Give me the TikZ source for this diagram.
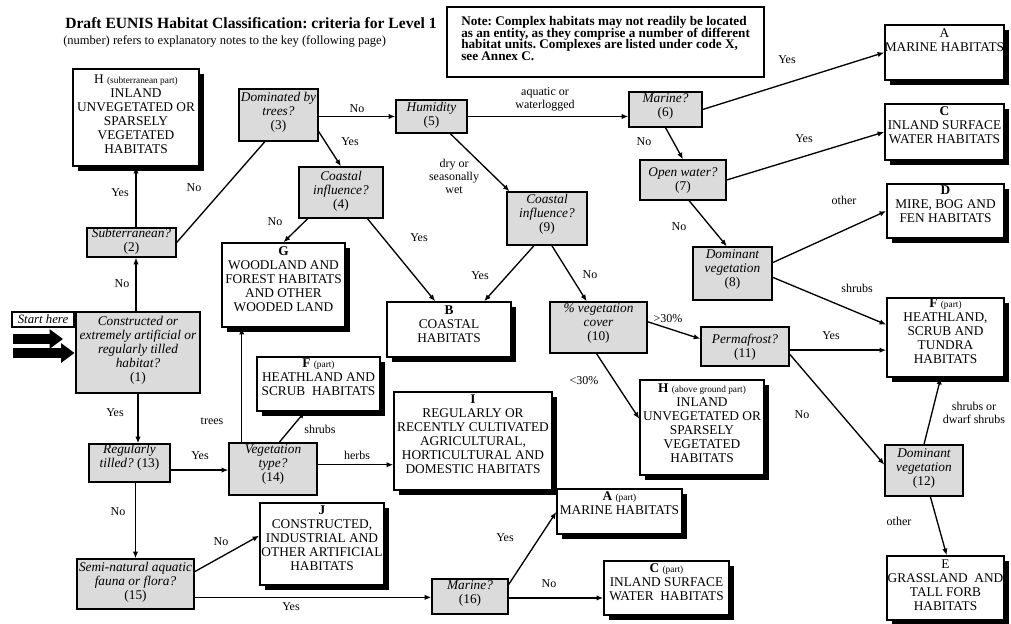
\documentclass[tikz,border=0pt]{standalone}
\usepackage{fontspec}
\setmainfont{Liberation Serif}
\usetikzlibrary{arrows.meta,calc,fit,shadows}
\frenchspacing
\newcommand\smallpart[1]{{\fontsize{7}{7}\selectfont #1}}
\newcommand\notefont{\fontsize{9.9}{8.8}\selectfont\bfseries\lineskiplimit=-10pt\relax}
\tikzset{
  qbox/.style={draw, line width=1pt, fill=black!14, inner sep=0pt},
  qboxthick/.style={qbox, line width=2.2pt},
  habbox/.style={draw, line width=1.1pt, fill=white, inner sep=0pt,
    drop shadow={shadow xshift=3.6pt, shadow yshift=-3.4pt, fill=black, opacity=1}},
  qtext/.style={align=center, font=\fontsize{10}{10.5}\selectfont\itshape, inner sep=0pt},
  htext/.style={align=center, font=\fontsize{10}{10.5}\selectfont, inner sep=0pt},
  lab/.style={align=center, font=\fontsize{9}{9.75}\selectfont, inner sep=0pt},
  conn/.style={line width=1pt, -{Latex[length=5pt,width=4pt]}},
  lnk/.style={line width=1pt},
  bigarrow/.style={line width=7.5pt, -{Triangle[length=10pt,width=14pt]}},
}
\begin{document}
\begin{tikzpicture}[x=0.75pt,y=-0.75pt]
\useasboundingbox (0,0) rectangle (1011,624);

% title
\node[anchor=base west, font=\fontsize{11.7}{12}\selectfont\bfseries, inner sep=0pt] (title) at (65,29)
  {Draft EUNIS Habitat Classification: criteria for Level 1};
\node[anchor=base west, font=\fontsize{9.4}{10}\selectfont, inner sep=0pt] (subtitle) at (63,45)
  {(number) refers to explanatory notes to the key (following page)};

% note
\node[draw, line width=2.2pt, fit={(447,7) (764,77)}, inner sep=0pt] (note) {};
\node[anchor=west, align=left, font=\notefont, inner sep=0pt] (notet) at (461,38.5)
  {Note: Complex habitats may not readily be located\\as an entity, as they comprise a number of different\\habitat units. Complexes are listed under code X,\\see Annex C.};

% start here
\node[draw, line width=0.8pt, fit={(12,312) (74,327)}, inner sep=0pt] (start) {};
\node[font=\fontsize{9.6}{10}\selectfont\itshape, inner sep=0pt] (startt) at (start) {Start here};

% question boxes
\node[qboxthick, fit={(76,312) (200,393)}] (Q1) {};
\node[qtext] (Q1t) at (138,350) {Constructed or\\extremely artificial or\\regularly tilled\\habitat?\\\textup{(1)}};
\node[qbox, fit={(87,228) (176,257)}] (Q2) {};
\node[qtext] (Q2t) at (131.5,241.5) {Subterranean?\\\textup{(2)}};
\node[qbox, fit={(239,89) (318,141)}] (Q3) {};
\node[qtext] (Q3t) at (278.5,112.5) {Dominated by\\trees?\\\textup{(3)}};
\node[qbox, fit={(299,167) (383,218)}] (Q4) {};
\node[qtext] (Q4t) at (341,191) {Coastal\\influence?\\\textup{(4)}};
\node[qbox, fit={(396,100) (467,133)}] (Q5) {};
\node[qtext] (Q5t) at (431.5,115.5) {Humidity\\\textup{(5)}};
\node[qbox, fit={(629,92) (702,127)}] (Q6) {};
\node[qtext] (Q6t) at (665.5,106.5) {Marine?\\\textup{(6)}};
\node[qbox, fit={(640,160) (726,200)}] (Q7) {};
\node[qtext] (Q7t) at (683,181) {Open water?\\\textup{(7)}};
\node[qbox, fit={(693,247) (772,300)}] (Q8) {};
\node[qtext] (Q8t) at (732.5,269.5) {Dominant\\vegetation\\\textup{(8)}};
\node[qbox, fit={(507,192) (587,245)}] (Q9) {};
\node[qtext] (Q9t) at (547,214.5) {Coastal\\influence?\\\textup{(9)}};
\node[qbox, fit={(550,302) (647,353)}] (Q10) {};
\node[qtext] (Q10t) at (598.5,323.5) {\% vegetation\\cover\\\textup{(10)}};
\node[qbox, fit={(701,327) (789,366)}] (Q11) {};
\node[qtext] (Q11t) at (745,347.5) {Permafrost?\\\textup{(11)}};
\node[qbox, fit={(885,445) (963,496)}] (Q12) {};
\node[qtext] (Q12t) at (924,468.5) {Dominant\\vegetation\\\textup{(12)}};
\node[qbox, fit={(89,444) (170,482)}] (Q13) {};
\node[qtext] (Q13t) at (129.5,457) {Regularly\\tilled? \textup{(13)}};
\node[qbox, fit={(229,443) (317,495)}] (Q14) {};
\node[qtext] (Q14t) at (273,465) {Vegetation\\type?\\\textup{(14)}};
\node[qbox, fit={(77,559) (194,609)}] (Q15) {};
\node[qtext] (Q15t) at (135.5,582.5) {Semi-natural aquatic\\fauna or flora?\\\textup{(15)}};
\node[qbox, fit={(432,579) (508,614)}] (Q16) {};
\node[qtext] (Q16t) at (470,594) {Marine?\\\textup{(16)}};

% habitat boxes
\node[habbox, fit={(73,69) (199,166)}] (Hsub) {};
\node[htext] (Hsubt) at (136,114.5) {H \smallpart{(subterranean part)}\\INLAND\\UNVEGETATED OR\\SPARSELY\\VEGETATED\\HABITATS};
\node[habbox, fit={(885,25) (1004,80)}] (A) {};
\node[htext] (At) at (944.5,40) {A\\MARINE HABITATS};
\node[habbox, fit={(885,104) (1004,160)}] (C) {};
\node[htext] (Ct) at (944.5,125) {\textbf{C}\\INLAND SURFACE\\WATER HABITATS};
\node[habbox, fit={(887,184) (1004,238)}] (D) {};
\node[htext] (Dt) at (945.5,204.5) {\textbf{D}\\MIRE, BOG AND\\FEN HABITATS};
\node[habbox, fit={(887,298) (1004,377)}] (F2) {};
\node[htext] (F2t) at (945.5,331) {\textbf{F} \smallpart{(part)}\\HEATHLAND,\\SCRUB AND\\TUNDRA\\HABITATS};
\node[habbox, fit={(887,556) (1004,620)}] (E) {};
\node[htext] (Et) at (945.5,585.5) {E\\GRASSLAND\ \ AND\\TALL FORB\\HABITATS};
\node[habbox, fit={(222,243) (345,327)}] (G) {};
\node[htext] (Gt) at (283.5,279) {\textbf{G}\\WOODLAND AND\\FOREST HABITATS\\AND OTHER\\WOODED LAND};
\node[habbox, fit={(387,302) (511,357)}] (B) {};
\node[htext] (Bt) at (449,324) {\textbf{B}\\COASTAL\\HABITATS};
\node[habbox, fit={(257,357) (380,411)}] (F1) {};
\node[htext] (F1t) at (318.5,377.5) {\textbf{F} \smallpart{(part)}\\HEATHLAND AND\\SCRUB\ \ HABITATS};
\node[habbox, fit={(394,392) (552,490)}] (I) {};
\node[htext] (It) at (473,434) {\textbf{I}\\REGULARLY OR\\RECENTLY CULTIVATED\\AGRICULTURAL,\\HORTICULTURAL AND\\DOMESTIC HABITATS};
\node[habbox, fit={(260,503) (384,585)}] (J) {};
\node[htext] (Jt) at (322,538.5) {\textbf{J}\\CONSTRUCTED,\\INDUSTRIAL AND\\OTHER ARTIFICIAL\\HABITATS};
\node[habbox, fit={(640,380) (764,475)}] (Hab) {};
\node[htext] (Habt) at (702,423.5) {\textbf{H} \smallpart{(above ground part)}\\INLAND\\UNVEGETATED OR\\SPARSELY\\VEGETATED\\HABITATS};
\node[habbox, fit={(557,489) (682,534)}] (A2) {};
\node[htext] (A2t) at (619.5,503.5) {\textbf{A} \smallpart{(part)}\\MARINE HABITATS};
\node[habbox, fit={(604,561) (729,615)}] (C2) {};
\node[htext] (C2t) at (666.5,582.5) {\textbf{C} \smallpart{(part)}\\INLAND SURFACE\\WATER\ \ HABITATS};

% big start arrows
\coordinate (s1) at (13,339);
\coordinate (s1e) at (63,339);
\coordinate (s2) at (13,353);
\draw[bigarrow] (s1) -- (s1e);
\draw[bigarrow] (s2) -- (s2 -| Q1.west);

% connectors
\draw[conn] (Hsub.south |- Q1.north) -- (Hsub.south |- Q2.south);
\draw[conn] (Hsub.south |- Q2.north) -- (Hsub.south);
\draw[lnk] (Q2.east) -- ($(Q3.south west)!0.33!(Q3.south east)$);
\draw[conn] (Q3.east |- Q5.west) -- (Q5.west);
\draw[conn] ($(Q3.north east)!0.81!(Q3.south east)$) -- (Q4.north);
\draw[conn] ($(Q4.south west)!0.11!(Q4.south east)$) -- (G.north);
\draw[conn] ($(Q4.south west)!0.81!(Q4.south east)$) -- ($(B.north west)!0.39!(B.north east)$);
\draw[conn] (Q5.east) -- (Q5.east -| Q6.west);
\draw[conn] ($(Q5.south west)!0.76!(Q5.south east)$) -- ($(Q9.north west)!0.04!(Q9.north east)$);
\draw[conn] (Q6.east) -- (A.west);
\draw[conn] (Q6.south) -- (Q7.north);
\draw[conn] (Q7.east) -- (C.west);
\draw[conn] ($(Q7.south west)!0.57!(Q7.south east)$) -- ($(Q8.north west)!0.43!(Q8.north east)$);
\draw[conn] ($(Q8.north east)!0.3!(Q8.south east)$) -- (D.west);
\draw[conn] ($(Q8.north east)!0.57!(Q8.south east)$) -- ($(F2.north west)!0.34!(F2.south west)$);
\draw[conn] ($(Q9.south west)!0.34!(Q9.south east)$) -- ($(B.north west)!0.78!(B.north east)$);
\draw[conn] ($(Q9.south west)!0.56!(Q9.south east)$) -- ($(Q10.north west)!0.38!(Q10.north east)$);
\draw[conn] ($(Q10.north east)!0.39!(Q10.south east)$) -- ($(Q11.north west)!0.31!(Q11.south west)$);
\draw[conn] ($(Q10.south west)!0.48!(Q10.south east)$) -- ($(Hab.north west)!0.41!(Hab.south west)$);
\coordinate (q11e) at ($(Q11.north east)!0.59!(Q11.south east)$);
\draw[conn] (q11e) -- (q11e -| F2.west);
\draw[conn] ($(Q11.north east)!0.69!(Q11.south east)$) -- ($(Q12.north west)!0.39!(Q12.south west)$);
\draw[conn] (Q12.north) -- ($(F2.south west)!0.46!(F2.south east)$);
\draw[conn] ($(Q12.south west)!0.58!(Q12.south east)$) -- ($(E.north west)!0.51!(E.north east)$);
\draw[conn] (Q1.south) -- (Q1.south |- Q13.north);
\coordinate (q13e) at ($(Q13.north east)!0.68!(Q13.south east)$);
\draw[conn] (q13e) -- (q13e -| Q14.west);
\coordinate (q14t) at ($(Q14.north west)!0.15!(Q14.north east)$);
\draw[conn] (q14t) -- (q14t |- G.south);
\draw[conn] ($(Q14.north west)!0.57!(Q14.north east)$) -- ($(F1.south west)!0.39!(F1.south east)$);
\coordinate (q14e) at ($(Q14.north east)!0.42!(Q14.south east)$);
\draw[conn] (q14e) -- (q14e -| I.west);
\draw[conn] (Q15.north |- Q13.south) -- (Q15.north);
\draw[conn] ($(Q15.north east)!0.26!(Q15.south east)$) -- ($(J.north west)!0.4!(J.south west)$);
\coordinate (q15e) at ($(Q15.north east)!0.76!(Q15.south east)$);
\draw[conn] (q15e) -- (q15e -| Q16.west);
\draw[conn] ($(Q16.north east)!0.17!(Q16.south east)$) -- ($(A2.north west)!0.51!(A2.south west)$);
\coordinate (q16e) at ($(Q16.north east)!0.54!(Q16.south east)$);
\draw[conn] (q16e) -- (q16e -| C2.west);

% labels
\node[lab] (l1) at (122,284) {No};
\node[lab] (l2) at (120,193) {Yes};
\node[lab] (l3) at (194,188) {No};
\node[lab] (l4) at (357,109) {No};
\node[lab] (l5) at (350,142) {Yes};
\node[lab] (l6) at (275,222) {No};
\node[lab] (l7) at (419,238) {Yes};
\node[lab] (l8) at (545,99.5) {aquatic or\\waterlogged};
\node[lab] (l9) at (454,176) {dry or\\seasonally\\wet};
\node[lab] (l10) at (787,60) {Yes};
\node[lab] (l11) at (644,142) {No};
\node[lab] (l12) at (804,139) {Yes};
\node[lab] (l13) at (679,227) {No};
\node[lab] (l14) at (844,200) {other};
\node[lab] (l15) at (857,288) {shrubs};
\node[lab] (l16) at (480,276) {Yes};
\node[lab] (l17) at (590,275) {No};
\node[lab] (l18) at (668,319) {>30\%};
\node[lab] (l19) at (584,381) {<30\%};
\node[lab] (l20) at (831,336) {Yes};
\node[lab] (l21) at (802,415) {No};
\node[lab] (l22) at (974,412.5) {shrubs or\\dwarf shrubs};
\node[lab] (l23) at (899,521) {other};
\node[lab] (l24) at (115,413) {Yes};
\node[lab] (l25) at (200,456) {Yes};
\node[lab] (l26) at (212,421) {trees};
\node[lab] (l27) at (320,429) {shrubs};
\node[lab] (l28) at (357,455) {herbs};
\node[lab] (l29) at (118,512) {No};
\node[lab] (l30) at (221,542) {No};
\node[lab] (l31) at (291,607) {Yes};
\node[lab] (l32) at (505,538) {Yes};
\node[lab] (l33) at (549,584) {No};
\end{tikzpicture}
\end{document}
